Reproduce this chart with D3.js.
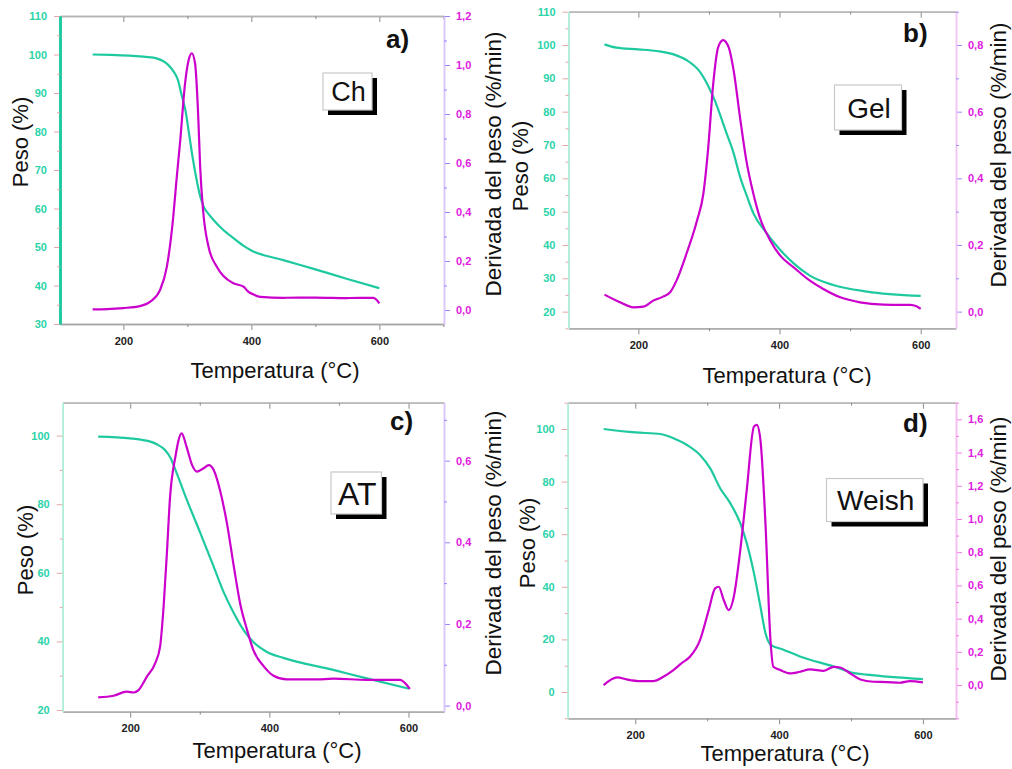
<!DOCTYPE html>
<html>
<head>
<meta charset="utf-8">
<script src="https://cdn.jsdelivr.net/npm/d3@7"></script>
<style>
  body { margin: 0; background: #fff; }
  svg { display: block; }
  text { font-family: "Liberation Sans", Arial, sans-serif; }
</style>
</head>
<body>
<svg id="chart" width="1012" height="769"></svg>
<script>
// ---- Thermogravimetric data: temperature (°C), weight (%), weight derivative (%/min) ----

// Ch
const chTgaT = [152,180,210,235,252,262,270,278,285,291,297,303,309,315,320,326,333,342,355,372,388,400,450,500,550,600];
const chTgaP = [100,99.9,99.7,99.4,99.0,98.3,97.3,95.7,93.5,89.5,85.5,79,72.5,67,63.2,60.3,58.6,56.8,54.6,52.3,50.3,49.1,46.6,44.2,41.7,39.3];
const chDtgT = [152,175,200,226,242,257,268,278,283,289,296,302,307,312,317,320,325,333,346,356,372,388,395,403,414,450,500,550,591,596,600];
const chDtgD = [0.003,0.004,0.008,0.016,0.034,0.08,0.177,0.381,0.53,0.696,0.915,1.02,1.048,1.007,0.79,0.585,0.395,0.259,0.177,0.14,0.109,0.095,0.075,0.064,0.054,0.05,0.051,0.049,0.05,0.041,0.027];

// Gel
const gelTgaT = [152,169,200,226,250,268,287,306,325,335,344,354,363,382,401,420,443,476,524,600];
const gelTgaP = [100.2,99.2,98.7,98.2,97.2,95.5,92,84.5,73.5,67.5,60.5,54.5,49.5,43.5,38.5,34.5,30.8,28,26,24.7];
const gelDtgT = [152,174,193,207,221,235,245,254,268,283,292,299,306,313,320,328,335,344,353,363,372,387,401,420,443,462,486,514,547,585,594,600];
const gelDtgD = [0.051,0.028,0.013,0.015,0.033,0.045,0.058,0.093,0.173,0.273,0.353,0.493,0.683,0.793,0.815,0.793,0.723,0.583,0.453,0.353,0.283,0.213,0.168,0.133,0.093,0.068,0.043,0.028,0.021,0.02,0.016,0.008];

// AT
const atTgaT = [154,200,219,238,250,258,266,281,301,320,334,349,363,377,396,420,492,540,601];
const atTgaP = [99.7,99.2,98.7,97.5,95.8,93.5,89.5,81.5,71.5,61.8,54.5,48.2,43.3,39.8,37,35.2,31.7,29.2,26.2];
const atDtgT = [154,176,195,205,212,224,236,243,248,253,257,265,274,281,289,296,305,313,320,329,339,349,358,368,377,392,406,425,468,492,540,588,595,602];
const atDtgD = [0.02,0.024,0.034,0.032,0.038,0.071,0.104,0.145,0.242,0.381,0.504,0.61,0.667,0.634,0.589,0.573,0.581,0.589,0.577,0.528,0.447,0.34,0.25,0.185,0.136,0.096,0.073,0.064,0.064,0.066,0.063,0.063,0.055,0.041];

// Weish
const wTgaT = [156,200,235,253,272,290,304,318,332,346,355,365,374,381,388,406,429,476,504,522,600];
const wTgaP = [100,98.7,98.1,96.5,93.9,90.1,85.1,77.5,71.8,64.2,56.6,45.2,32.5,22.4,18,16.1,13.5,9.7,7.2,6.6,4.9];
const wDtgT = [156,175,188,207,225,239,253,265,276,290,302,311,316,323,330,337,346,355,365,369,374,381,388,392,402,416,429,443,462,476,485,499,513,531,550,568,582,600];
const wDtgD = [0.0,0.046,0.034,0.024,0.024,0.05,0.09,0.134,0.17,0.27,0.45,0.582,0.592,0.512,0.451,0.532,0.813,1.174,1.556,1.566,1.476,0.974,0.27,0.11,0.09,0.07,0.08,0.094,0.086,0.11,0.106,0.07,0.034,0.02,0.018,0.014,0.024,0.016];

// ---- Tick values ----
const tempTicks = [200, 400, 600];
const tempMinor = [100, 300, 500, 700];
const pesoTicksA = [30,40,50,60,70,80,90,100,110];
const pesoTicksB = [20,30,40,50,60,70,80,90,100,110];
const pesoTicksC = [20,40,60,80,100];
const pesoTicksD = [0,20,40,60,80,100];
const derivTicksA = [0.0,0.2,0.4,0.6,0.8,1.0,1.2];
const derivTicksB = [0.0,0.2,0.4,0.6,0.8];
const derivTicksC = [0.0,0.2,0.4,0.6];
const derivTicksD = [0.0,0.2,0.4,0.6,0.8,1.0,1.2,1.4,1.6];

// ---- Text ----
const xTitle = "Temperatura (°C)";
const yTitle = "Peso (%)";
const y2Title = "Derivada del peso (%/min)";

const TEAL = "#1fc9a0";
const TEAL_TXT = "#2bd3a9";
const MAG = "#cc00cc";
const MAG_TXT = "#e020e0";

const panels = [
  { tag: "a)", name: "Ch", tgaT: chTgaT, tgaP: chTgaP, dtgT: chDtgT, dtgD: chDtgD,
    l: 60, r: 444, t: 16, b: 324, xDom: [101, 701], pDom: [30, 110], dDom: [-0.057, 1.2],
    pTicks: pesoTicksA, pStep: 5, dTicks: derivTicksA, dStep: 0.1,
    leftAxis: { color: TEAL, width: 2.6 }, rightAxis: "#dcc4ff", rightTick: "#8f86ff",
    tagPos: [386, 48], box: [323, 73, 49, 37], boxFont: 27,
    yTitlePos: [28, 142], y2TitlePos: [501, 164], xTitlePos: [275, 378] },
  { tag: "b)", name: "Gel", tgaT: gelTgaT, tgaP: gelTgaP, dtgT: gelDtgT, dtgD: gelDtgD,
    l: 568.5, r: 956, t: 11.7, b: 328.3, xDom: [101, 650], pDom: [15, 110], dDom: [-0.05, 0.9],
    pTicks: pesoTicksB, pStep: 5, dTicks: derivTicksB, dStep: 0.1,
    leftAxis: { color: "#aeeeda", width: 1.6 }, rightAxis: "#f0c4f4", rightTick: "#9a8cff",
    tagPos: [903, 41.7], box: [834.5, 85, 67, 45], boxFont: 28,
    yTitlePos: [528, 166], y2TitlePos: [1006, 155], xTitlePos: [787, 383], clipBottom: 386 },
  { tag: "c)", name: "AT", tgaT: atTgaT, tgaP: atTgaP, dtgT: atDtgT, dtgD: atDtgD,
    l: 62.7, r: 444, t: 402.7, b: 711.7, xDom: [103, 651], pDom: [19.5, 109.6], dDom: [-0.015, 0.742],
    pTicks: pesoTicksC, pStep: 10, dTicks: derivTicksC, dStep: 0.1,
    leftAxis: { color: "#aeeeda", width: 1.6 }, rightAxis: "#dcc4ff", rightTick: "#8f86ff",
    tagPos: [390, 430], box: [331, 472, 50.5, 42], boxFont: 32,
    yTitlePos: [33, 550], y2TitlePos: [501, 543], xTitlePos: [277, 758] },
  { tag: "d)", name: "Weish", tgaT: wTgaT, tgaP: wTgaP, dtgT: wDtgT, dtgD: wDtgD,
    l: 567.7, r: 956, t: 402.7, b: 718.3, xDom: [106, 646], pDom: [-10, 110], dDom: [-0.2, 1.7],
    pTicks: pesoTicksD, pStep: 10, dTicks: derivTicksD, dStep: 0.1,
    leftAxis: { color: "#aeeeda", width: 1.6 }, rightAxis: "#f6bdf0", rightTick: "#f07ce4",
    tagPos: [903, 431.7], box: [826.5, 478.5, 96.5, 43], boxFont: 28,
    yTitlePos: [535, 543], y2TitlePos: [1006, 549], xTitlePos: [785, 761] }
];

const svg = d3.select("#chart");
const fmtDeriv = v => d3.format(".1f")(v).replace(".", ",");
const minorBetween = (dom, step) => {
  const out = [];
  const lo = Math.ceil(dom[0] / step - 1e-9), hi = Math.floor(dom[1] / step + 1e-9);
  for (let i = lo; i <= hi; i++) out.push(+(i * step).toFixed(4));
  return out;
};

panels.forEach((p, i) => {
  let g = svg.append("g");
  if (p.clipBottom) {
    svg.append("clipPath").attr("id", "clip" + i)
      .append("rect").attr("x", 500).attr("y", 0).attr("width", 512).attr("height", p.clipBottom);
    g.attr("clip-path", `url(#clip${i})`);
  }

  const x = d3.scaleLinear().domain(p.xDom).range([p.l, p.r]);
  const yP = d3.scaleLinear().domain(p.pDom).range([p.b, p.t]);
  const yD = d3.scaleLinear().domain(p.dDom).range([p.b, p.t]);

  // Top frame axis with inward ticks
  const top = g.append("g").attr("transform", `translate(0,${p.t})`)
    .call(d3.axisTop(x).tickValues(tempTicks).tickSizeInner(-6).tickSizeOuter(0).tickFormat(""));
  top.append("g").call(d3.axisTop(x).tickValues(tempMinor.filter(v => v > p.xDom[0] && v < p.xDom[1])).tickSizeInner(-3).tickSizeOuter(0).tickFormat(""));
  top.selectAll("path.domain").attr("stroke", "#b4b4b4").attr("stroke-width", 1.3);
  top.selectAll(".tick line").attr("stroke", "#8c8c8c");

  // Bottom temperature axis
  const bot = g.append("g").attr("transform", `translate(0,${p.b})`)
    .call(d3.axisBottom(x).tickValues(tempTicks).tickSizeInner(6).tickSizeOuter(0).tickPadding(7).tickFormat(d3.format("d")));
  bot.append("g").call(d3.axisBottom(x).tickValues(tempMinor.filter(v => v > p.xDom[0] && v < p.xDom[1])).tickSizeInner(3).tickSizeOuter(0).tickFormat(""));
  bot.selectAll("path.domain").attr("stroke", "#a8a8a8").attr("stroke-width", 1.3);
  bot.selectAll(".tick line").attr("stroke", "#8c8c8c");
  bot.selectAll(".tick text").attr("fill", "#222").attr("font-size", 11).attr("font-weight", "bold")
    .attr("font-family", "Liberation Sans, Arial, sans-serif");

  // Left weight axis
  const left = g.append("g").attr("transform", `translate(${p.l},0)`)
    .call(d3.axisLeft(yP).tickValues(p.pTicks).tickSizeInner(6).tickSizeOuter(0).tickPadding(7));
  left.append("g").call(d3.axisLeft(yP).tickValues(minorBetween(p.pDom, p.pStep).filter(v => !p.pTicks.includes(v))).tickSizeInner(3).tickSizeOuter(0).tickFormat(""));
  left.selectAll("path.domain").attr("stroke", p.leftAxis.color).attr("stroke-width", p.leftAxis.width);
  left.selectAll(".tick line").attr("stroke", "#e6a6a6");
  left.selectAll(".tick text").attr("fill", TEAL_TXT).attr("font-size", 11).attr("font-weight", "bold")
    .attr("font-family", "Liberation Sans, Arial, sans-serif");

  // Right derivative axis
  const right = g.append("g").attr("transform", `translate(${p.r},0)`)
    .call(d3.axisRight(yD).tickValues(p.dTicks).tickSizeInner(6).tickSizeOuter(0).tickPadding(6).tickFormat(fmtDeriv));
  right.append("g").call(d3.axisRight(yD).tickValues(minorBetween(p.dDom, p.dStep).filter(v => !p.dTicks.some(t => Math.abs(t - v) < 1e-6))).tickSizeInner(3).tickSizeOuter(0).tickFormat(""));
  right.selectAll("path.domain").attr("stroke", p.rightAxis).attr("stroke-width", 1.5);
  right.selectAll(".tick line").attr("stroke", p.rightTick);
  right.selectAll(".tick text").attr("fill", MAG_TXT).attr("font-size", 11).attr("font-weight", "bold")
    .attr("font-family", "Liberation Sans, Arial, sans-serif");

  // TGA curve
  const tga = p.tgaT.map((t, k) => [t, p.tgaP[k]]);
  g.append("path").datum(tga)
    .attr("fill", "none").attr("stroke", TEAL).attr("stroke-width", 2.2)
    .attr("d", d3.line().x(d => x(d[0])).y(d => yP(d[1])).curve(d3.curveMonotoneX));

  // DTG curve
  const dtg = p.dtgT.map((t, k) => [t, p.dtgD[k]]);
  g.append("path").datum(dtg)
    .attr("fill", "none").attr("stroke", MAG).attr("stroke-width", 2.2)
    .attr("d", d3.line().x(d => x(d[0])).y(d => yD(d[1])).curve(d3.curveMonotoneX));

  // Panel tag
  g.append("text").attr("x", p.tagPos[0]).attr("y", p.tagPos[1])
    .attr("font-size", 26).attr("font-weight", "bold").attr("fill", "#111").text(p.tag);

  // Sample name box with drop shadow
  const [bx, by, bw, bh] = p.box;
  g.append("rect").attr("x", bx + 5).attr("y", by + 5).attr("width", bw).attr("height", bh).attr("fill", "#000");
  g.append("rect").attr("x", bx).attr("y", by).attr("width", bw).attr("height", bh)
    .attr("fill", "#fff").attr("stroke", "#c8c8c8").attr("stroke-width", 1.2);
  g.append("text").attr("x", bx + bw / 2 + 1).attr("y", by + bh / 2 + p.boxFont * 0.36)
    .attr("text-anchor", "middle").attr("font-size", p.boxFont).attr("fill", "#111").text(p.name);

  // Axis titles
  g.append("text").attr("transform", `translate(${p.yTitlePos[0]},${p.yTitlePos[1]}) rotate(-90)`)
    .attr("text-anchor", "middle").attr("font-size", 22).attr("fill", "#111").text(yTitle);
  svg.append("text").attr("transform", `translate(${p.y2TitlePos[0]},${p.y2TitlePos[1]}) rotate(-90)`)
    .attr("text-anchor", "middle").attr("font-size", 22.5).attr("fill", "#111").text(y2Title);
  g.append("text").attr("x", p.xTitlePos[0]).attr("y", p.xTitlePos[1])
    .attr("text-anchor", "middle").attr("font-size", 22).attr("fill", "#111").text(xTitle);
});
</script>
</body>
</html>
